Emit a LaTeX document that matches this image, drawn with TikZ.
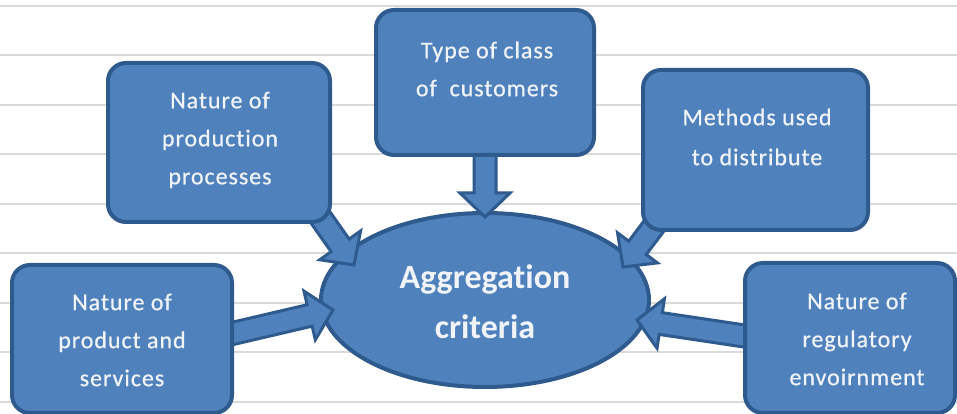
\documentclass[tikz,border=0pt]{standalone}
\usepackage{fontspec}
\setmainfont[Ligatures=NoCommon]{Carlito}
\newfontfamily\boxfont[Ligatures=NoCommon, LetterSpace=4, FakeBold=0.6]{Carlito}
\usetikzlibrary{calc,shapes.geometric}

\definecolor{boxfill}{HTML}{4F81BD}
\definecolor{boxline}{HTML}{2F5A8E}
\definecolor{ruleline}{HTML}{DADADA}
\definecolor{lighttext}{HTML}{F0F3F8}

\tikzset{
  box/.style={draw=boxline, line width=4pt, fill=boxfill, rounded corners=18pt,
              inner sep=0pt},
  hub/.style={ellipse, draw=boxline, line width=4pt, fill=boxfill, inner sep=0pt,
              minimum width=328pt, minimum height=174pt},
  boxtext/.style={text=lighttext, align=center, inner sep=0pt,
                  font=\boxfont\fontsize{24}{38}\selectfont},
  hubtext/.style={text=lighttext, align=center, inner sep=0pt,
                  font=\bfseries\fontsize{34}{50}\selectfont},
  blockarrow/.style={draw=boxline, line width=3pt, fill=boxfill, line join=miter},
}

% block arrow from #1 to #2 (shaft half width 11pt, head half width 25pt)
\newcommand\blockarr[2]{%
  \path (#1) coordinate (ba-s) (#2) coordinate (ba-t);
  \path ($(ba-t)!24pt!(ba-s)$) coordinate (ba-b);
  \filldraw[blockarrow]
    ($(ba-s)!11pt!90:(ba-t)$) -- ($(ba-b)!11pt!90:(ba-t)$) --
    ($(ba-b)!25pt!90:(ba-t)$) -- (ba-t) --
    ($(ba-b)!25pt!-90:(ba-t)$) -- ($(ba-b)!11pt!-90:(ba-t)$) --
    ($(ba-s)!11pt!-90:(ba-t)$) -- cycle;
}

\begin{document}
\begin{tikzpicture}[x=1pt, y=1pt]
  \useasboundingbox (0,0) rectangle (957,414);
  \fill[white] (0,0) rectangle (957,414);

  % ruled background
  \foreach \i in {0,...,8}
    \draw[ruleline, line width=2pt] (0,{408-49.5*\i}) -- (957,{408-49.5*\i});

  % central criterion
  \node[hub] (agg) at (485,114) {};
  \node[hubtext] (aggtxt) at (485,112) {Aggregation\\criteria};

  % arrows into the hub
  \blockarr{$(485,259)+(0,4)$}{$(agg.center)+(0,83)$}
  \blockarr{$(330,192)+(-12,8)$}{$(agg.center)+(-131,35)$}
  \blockarr{$(643,184)+(14,8)$}{$(agg.center)+(138,33)$}
  \blockarr{$(232,75)+(-6,4)$}{$(agg.center)+(-152,-10)$}
  \blockarr{$(745,76)+(6,1)$}{$(agg.center)+(152,-20)$}

  % factor boxes
  \node[box, minimum width=218pt, minimum height=145pt] (type) at (485,331.5) {};
  \node[boxtext] (typetxt) at (487,345) {Type of class\\of\ \ customers};

  \node[box, minimum width=222pt, minimum height=159pt] (prod) at (219,271.5) {};
  \node[boxtext] (prodtxt) at (220,274) {Nature of\\production\\processes};

  \node[box, minimum width=225pt, minimum height=160pt] (meth) at (755.5,264) {};
  \node[boxtext] (methtxt) at (757,277) {Methods used\\[2pt]to distribute};

  \node[box, minimum width=220pt, minimum height=148pt] (serv) at (122,75) {};
  \node[boxtext] (servtxt) at (122,74) {Nature of\\product and\\services};

  \node[box, minimum width=210pt, minimum height=150pt] (reg) at (850,76) {};
  \node[boxtext] (regtxt) at (857,75) {Nature of\\regulatory\\envoirnment};
\end{tikzpicture}
\end{document}
